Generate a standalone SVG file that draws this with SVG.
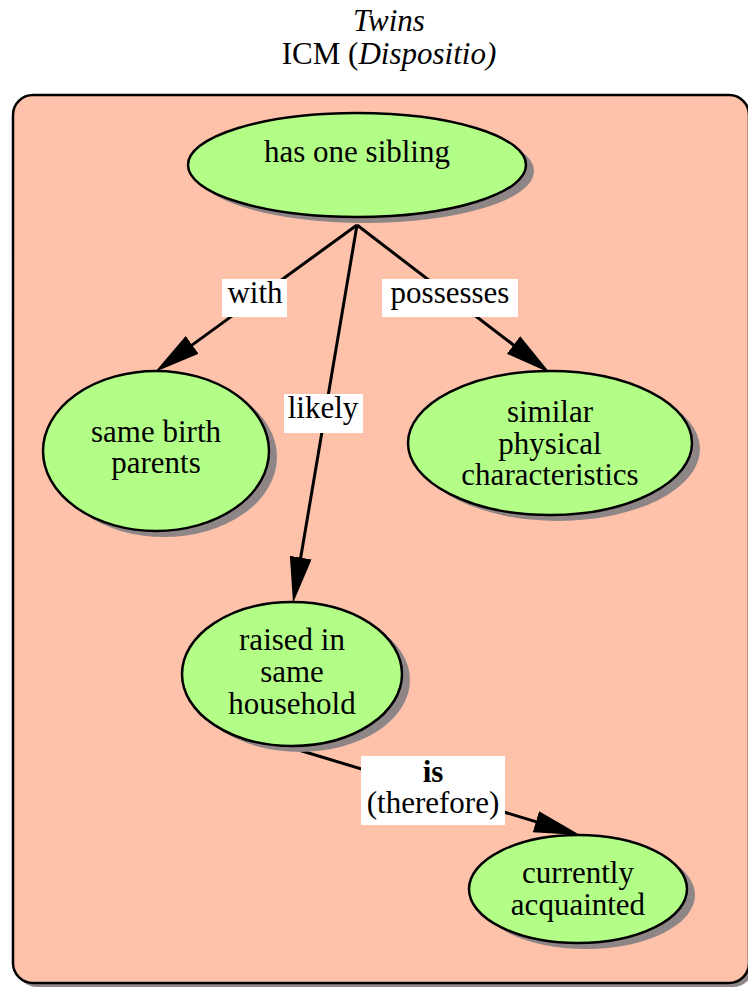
<svg xmlns="http://www.w3.org/2000/svg" width="748" height="988" viewBox="0 0 748 988">
<defs>
<style>
text{font-family:"Liberation Serif","Times New Roman",serif;font-size:31px;fill:#000;text-anchor:middle}
.it{font-style:italic}
.b{font-weight:bold}
.node{fill:#b3fe87;stroke:#000;stroke-width:2.5}
.shadow{fill:#8e8686}
.edge{stroke:#000;stroke-width:3;fill:none;marker-end:url(#arr)}
.lbl{fill:#fff}
</style>
<marker id="arr" markerUnits="userSpaceOnUse" markerWidth="48" markerHeight="24" refX="36" refY="11" orient="auto">
<path d="M0,0 L46,11 L0,22 Z" fill="#000"/>
</marker>
</defs>
<rect width="748" height="988" fill="#fff"/>
<g id="title">
<text x="389" y="31" class="it">Twins</text>
<text x="389" y="64">ICM (<tspan class="it">Dispositio)</tspan></text>
</g>
<g id="container">
<rect x="17" y="99" width="736" height="888" rx="20" class="shadow"/>
<rect x="13" y="95" width="736" height="888" rx="20" fill="#fec1aa" stroke="#000" stroke-width="2.5"/>
</g>
<g id="connectors">
<line x1="357" y1="225" x2="163.1" y2="366.1" class="edge"/>
<line x1="357" y1="225" x2="542.1" y2="366.9" class="edge"/>
<line x1="357" y1="225" x2="294.7" y2="593.1" class="edge"/>
<line x1="292" y1="748" x2="570.4" y2="832.1" class="edge"/>
<rect x="222" y="279" width="65" height="38" class="lbl"/>
<text x="255" y="303">with</text>
<rect x="382" y="279" width="136" height="38" class="lbl"/>
<text x="450" y="303">possesses</text>
<rect x="284" y="394" width="79" height="39" class="lbl"/>
<text x="323" y="418">likely</text>
<rect x="361" y="756" width="144" height="69" class="lbl"/>
<text x="433" y="782" class="b">is</text>
<text x="433" y="813">(therefore)</text>
</g>
<g id="n1">
<ellipse cx="365" cy="171" rx="169" ry="52" class="shadow"/>
<ellipse cx="357" cy="165" rx="169" ry="52" class="node"/>
<text x="357" y="162">has one sibling</text>
</g>
<g id="n2">
<ellipse cx="164" cy="457" rx="113" ry="80" class="shadow"/>
<ellipse cx="156" cy="451" rx="113" ry="80" class="node"/>
<text x="156" y="442">same birth</text>
<text x="156" y="473">parents</text>
</g>
<g id="n3">
<ellipse cx="558" cy="449" rx="142" ry="72" class="shadow"/>
<ellipse cx="550" cy="443" rx="142" ry="72" class="node"/>
<text x="550" y="422">similar</text>
<text x="550" y="454">physical</text>
<text x="550" y="485">characteristics</text>
</g>
<g id="n4">
<ellipse cx="300" cy="680" rx="110" ry="72" class="shadow"/>
<ellipse cx="292" cy="674" rx="110" ry="72" class="node"/>
<text x="292" y="650">raised in</text>
<text x="292" y="682">same</text>
<text x="292" y="714">household</text>
</g>
<g id="n5">
<ellipse cx="586" cy="895" rx="109" ry="54" class="shadow"/>
<ellipse cx="578" cy="889" rx="109" ry="54" class="node"/>
<text x="578" y="883">currently</text>
<text x="578" y="915">acquainted</text>
</g>
</svg>
